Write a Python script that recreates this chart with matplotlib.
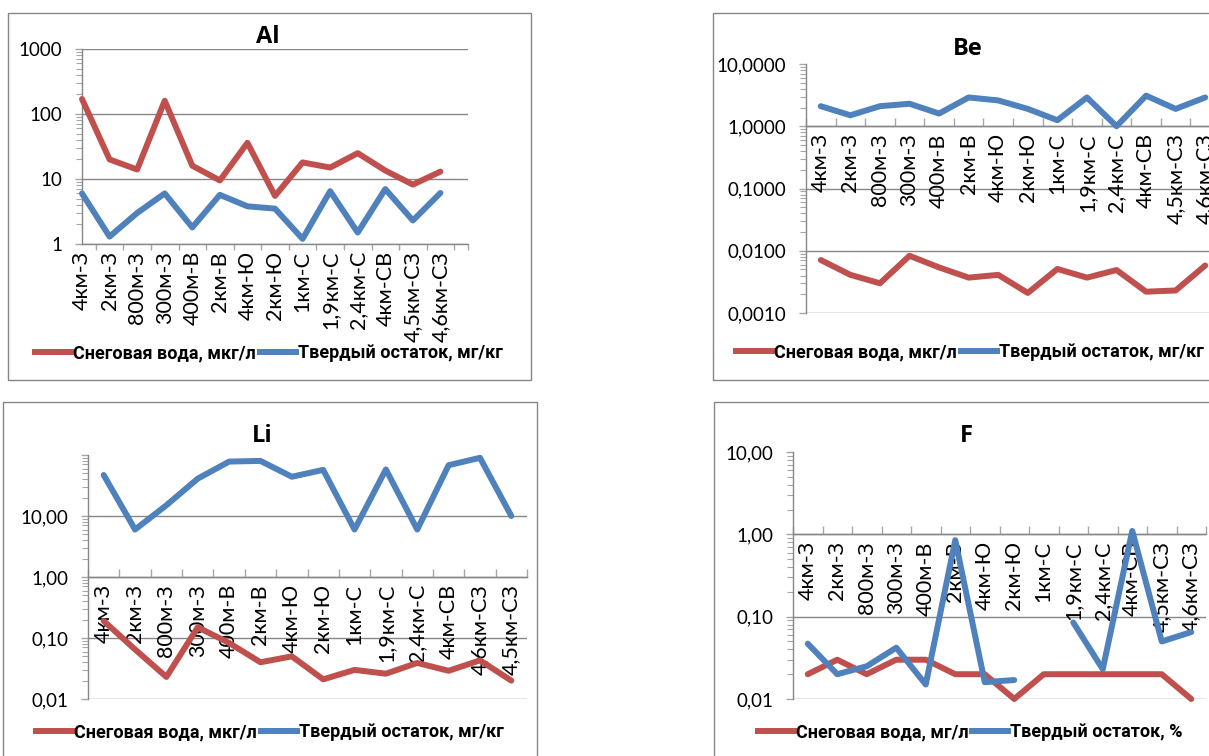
import numpy as np
import matplotlib
matplotlib.use("Agg")
import matplotlib.pyplot as plt
from matplotlib import font_manager
from matplotlib.patches import Rectangle
from matplotlib.lines import Line2D

plt.rcParams['font.family'] = ['Lato', 'Open Sans', 'DejaVu Sans']

# ---- data -------------------------------------------------------------
sites = ["4км-З", "2км-З", "800м-З", "300м-З", "400м-В", "2км-В", "4км-Ю",
         "2км-Ю", "1км-С", "1,9км-С", "2,4км-С", "4км-СВ", "4,5км-СЗ", "4,6км-СЗ"]
sites_li = ["4км-З", "2км-З", "800м-З", "300м-З", "400м-В", "2км-В", "4км-Ю",
            "2км-Ю", "1км-С", "1,9км-С", "2,4км-С", "4км-СВ", "4,6км-СЗ", "4,5км-СЗ"]

al_water = [170, 20, 14, 160, 16, 9.5, 36, 5.5, 18, 15, 25, 13.5, 8.2, 13]
al_solid = [6.0, 1.3, 3.0, 6.0, 1.8, 5.7, 3.8, 3.5, 1.2, 6.5, 1.5, 7.0, 2.3, 6.1]

be_water = [0.0071, 0.0041, 0.0030, 0.0083, 0.0054, 0.0037, 0.0041,
            0.0021, 0.0051, 0.0037, 0.0049, 0.0022, 0.0023, 0.0058]
be_solid = [2.1, 1.5, 2.1, 2.3, 1.6, 2.9, 2.6, 1.9, 1.25, 2.9, 1.0, 3.1, 1.9, 2.9]

li_water = [0.19, 0.065, 0.023, 0.15, 0.083, 0.040, 0.050, 0.021, 0.030,
            0.026, 0.039, 0.029, 0.043, 0.020]
li_solid = [47, 6.0, 15, 41, 78, 80, 44, 57, 6.0, 58, 6.0, 68, 90, 10]

f_water = [0.02, 0.03, 0.02, 0.03, 0.03, 0.02, 0.02, 0.01, 0.02, 0.02,
           0.02, 0.02, 0.02, 0.01]
f_solid = [0.047, 0.020, 0.025, 0.042, 0.015, 0.85, 0.016, 0.017, np.nan,
           0.085, 0.023, 1.1, 0.050, 0.065]

# ---- styling ----------------------------------------------------------
W, H = 1209, 756
RED = "#C0504D"
BLUE = "#4F81BD"
GRID = "#868686"
TICK = "#A6A6A6"
LW = 4.3


def has_font(name):
    try:
        font_manager.findfont(font_manager.FontProperties(family=name),
                              fallback_to_default=False)
        return True
    except Exception:
        return False


# narrow bold face for the legend when it is available
if has_font("Liberation Sans Narrow"):
    LEG_FONT = dict(family=["Liberation Sans Narrow", "DejaVu Sans"],
                    weight="bold", size=14.3)
else:
    LEG_FONT = dict(family=["Roboto", "DejaVu Sans"], weight="bold", size=13)
TITLE_FONT = ["Open Sans", "DejaVu Sans"]

fig = plt.figure(figsize=(W / 100, H / 100), dpi=100)
fig.patch.set_facecolor("white")


def fx(x):
    return x / W


def fy(y):
    return 1 - y / H


def chart(title, cats, water, solid, ylims, yfmt, plot_px, box_px,
          title_px, legend_px, water_label, solid_label, cross=None,
          on_ticks=False, top_grid=False):
    l, t, r, b = box_px
    fig.add_artist(Rectangle((fx(l), fy(b)), fx(r - l), (b - t) / H,
                             transform=fig.transFigure, fill=False,
                             edgecolor=GRID, lw=1.0, zorder=0))
    pl, pt, pr, pb = plot_px
    ax = fig.add_axes([fx(pl), fy(pb), fx(pr - pl), (pb - pt) / H])
    ax.set_facecolor("none")
    n = len(cats)
    x = np.arange(n)
    ax.set_yscale("log")
    ax.set_ylim(*ylims)
    if on_ticks:
        ax.set_xlim(0, n)
        bounds = list(np.arange(0.5, n, 1.0)) + [n]
    else:
        ax.set_xlim(-0.5, n - 0.5)
        bounds = list(np.arange(-0.5, n, 1.0))

    # horizontal grid lines at the decades
    lo, hi = ylims
    dec = 10.0 ** np.arange(np.floor(np.log10(lo)), np.ceil(np.log10(hi)) + 1)
    for v in dec:
        if v < lo * 0.999 or v > hi * 1.001:
            continue
        if v >= hi * 0.999 and not top_grid:
            continue
        ax.axhline(v, color=GRID, lw=1.0, zorder=1)

    ax.plot(x, water, color=RED, lw=LW, solid_joinstyle="round",
            solid_capstyle="round", zorder=3, clip_on=False)
    ax.plot(x, solid, color=BLUE, lw=LW, solid_joinstyle="round",
            solid_capstyle="round", zorder=3, clip_on=False)

    for s in ("top", "right"):
        ax.spines[s].set_visible(False)
    ax.spines["left"].set_color(GRID)
    ax.spines["bottom"].set_color(GRID)
    ax.spines["left"].set_linewidth(1.0)
    ax.spines["bottom"].set_linewidth(1.0)

    if cross is not None:
        ax.spines["bottom"].set_position(("data", cross))
        tdir = "in"
        tlen = 6
    else:
        tdir = "out"
        tlen = 4

    ax.set_xticks(x)
    ax.set_xticklabels(cats, rotation=90, fontsize=15.5)
    ax.tick_params(axis="x", which="major", length=0, pad=5)
    ax.set_xticks(bounds, minor=True)
    ax.tick_params(axis="x", which="minor", direction=tdir, length=tlen,
                   color=TICK, width=1.0)

    majors = [v for v in dec if lo * 0.999 <= v <= hi * 1.001]
    ax.set_yticks(majors)
    ax.set_yticklabels([yfmt(v) if yfmt(v) is not None else "" for v in majors],
                       fontsize=13.5)
    ax.tick_params(axis="y", which="major", direction="out", length=5,
                   color=TICK, width=1.0, pad=9)
    ax.tick_params(axis="y", which="minor", direction="out", length=4,
                   color=TICK, width=0.8)
    ax.yaxis.set_minor_locator(matplotlib.ticker.LogLocator(base=10, subs=np.arange(2, 10)))
    ax.yaxis.set_minor_formatter(matplotlib.ticker.NullFormatter())

    fig.text(fx(title_px[0]), fy(title_px[1]), title, ha="center", va="center",
             fontsize=17, fontweight="bold", family=TITLE_FONT)

    handles = [Line2D([], [], color=RED, lw=LW), Line2D([], [], color=BLUE, lw=LW)]
    fig.legend(handles, [water_label, solid_label], loc="center",
               bbox_to_anchor=(fx(legend_px[0]), fy(legend_px[1])), ncol=2,
               frameon=False, handlelength=2.0, handletextpad=0.1,
               columnspacing=0.2, borderaxespad=0, borderpad=0,
               prop=LEG_FONT)
    return ax


def fmt_int(v):
    return f"{v:g}"


def fmt_dec(nd):
    def f(v):
        return f"{v:.{nd}f}".replace(".", ",")
    return f


def fmt_li(v):
    if v >= 99:
        return None
    return f"{v:.2f}".replace(".", ",")


chart("Al", sites, al_water, al_solid, (1, 1000), fmt_int,
      (82, 49, 468, 244), (8, 13, 531, 380), (268, 37), (269, 353),
      "Снеговая вода, мкг/л", "Твердый остаток, мг/кг",
      cross=None, on_ticks=True, top_grid=True)

chart("Be", sites, be_water, be_solid, (0.001, 10), fmt_dec(4),
      (806, 64, 1220, 313), (713, 13, 1236, 380), (968, 49), (970, 352),
      "Снеговая вода, мкг/л", "Твердый остаток, мг/кг", cross=1.0)

chart("Li", sites_li, li_water, li_solid, (0.01, 100), fmt_li,
      (88, 455, 527, 699), (3, 402, 537, 790), (262, 436), (270, 732),
      "Снеговая вода, мкг/л", "Твердый остаток, мг/кг", cross=1.0)

chart("F", sites, f_water, f_solid, (0.01, 10), fmt_dec(2),
      (793, 452, 1206, 699), (714, 402, 1240, 790), (966, 436), (970, 732),
      "Снеговая вода, мг/л", "Твердый остаток, %", cross=1.0)

fig.savefig("out.png", dpi=100)
